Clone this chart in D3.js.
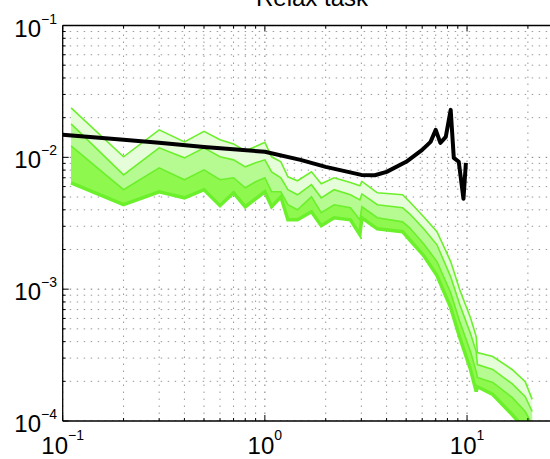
<!DOCTYPE html>
<html>
<head>
<meta charset="utf-8">
<script src="https://cdn.jsdelivr.net/npm/d3@7"></script>
<style>
body { margin: 0; background: #fff; }
svg { display: block; font-family: "Liberation Sans", Arial, sans-serif; }
</style>
</head>
<body>
<div id="chart"></div>
<script>
// frequencies of the green percentile bands
const bandFreq = [0.11, 0.2, 0.3, 0.4, 0.5, 0.6, 0.7, 0.8, 0.9, 1.0, 1.08, 1.2, 1.3, 1.45, 1.7, 1.9, 2.2, 2.65, 2.95, 3.02, 3.6, 4.8, 5.2, 6.1, 7.1, 8.3, 9.2, 10.4, 11.1, 11.25, 13.4, 16.7, 19.4, 21];
const bandOuter = [0.0237, 0.01009, 0.01615, 0.0131, 0.01575, 0.0136, 0.01265, 0.0112, 0.0121, 0.013, 0.01009, 0.00925, 0.00711, 0.00664, 0.00776, 0.0063, 0.007, 0.00644, 0.00608, 0.00656, 0.00538, 0.0052, 0.0046, 0.00354, 0.00273, 0.00162, 0.00099, 0.000608, 0.000437, 0.00033, 0.000308, 0.000246, 0.000199, 0.000146];
const bandMiddle = [0.01795, 0.00736, 0.0118, 0.00991, 0.0118, 0.01009, 0.00957, 0.00847, 0.00908, 0.00957, 0.00776, 0.007, 0.00568, 0.0052, 0.0062, 0.00493, 0.00568, 0.0052, 0.00476, 0.00528, 0.00437, 0.00414, 0.00373, 0.00287, 0.00217, 0.00124, 0.000764, 0.00046, 0.000336, 0.000268, 0.000246, 0.000192, 0.000153, 0.000118];
const bandInner = [0.01222, 0.00568, 0.00832, 0.00676, 0.00803, 0.00676, 0.007, 0.00588, 0.00652, 0.007, 0.00548, 0.00548, 0.00437, 0.004, 0.00502, 0.0038, 0.00437, 0.00414, 0.00336, 0.00422, 0.00348, 0.00324, 0.00292, 0.00221, 0.00162, 0.00094, 0.000568, 0.000336, 0.000237, 0.000214, 0.000196, 0.000151, 0.000118, 0.000094];
const bandLow = [0.00641, 0.00437, 0.00548, 0.00493, 0.00568, 0.0043, 0.00538, 0.00422, 0.00485, 0.00548, 0.00422, 0.00502, 0.00336, 0.00336, 0.00386, 0.00303, 0.00348, 0.00336, 0.00259, 0.00348, 0.00287, 0.00273, 0.00237, 0.0018, 0.00127, 0.000724, 0.00043, 0.000246, 0.000167, 0.000182, 0.000159, 0.000112, 0.0000863, 0.0000724];

// black curve
const meanFreq = [0.1, 0.2, 0.3, 0.5, 1.0, 1.5, 2, 3, 3.5, 4, 5, 6, 6.6, 7.0, 7.38, 7.85, 8.3, 8.6, 9.1, 9.6, 9.87];
const meanPower = [0.01481, 0.0136, 0.01288, 0.012, 0.01101, 0.00957, 0.00847, 0.00736, 0.00731, 0.00776, 0.00925, 0.0114, 0.0131, 0.01615, 0.01288, 0.0143, 0.0229, 0.00991, 0.00925, 0.00485, 0.00908];

const xTicks = [0.1, 1, 10];
const xTickExp = ["\u22121", "0", "1"];
const yTicks = [1e-4, 1e-3, 1e-2, 1e-1];
const yTickExp = ["\u22124", "\u22123", "\u22122", "\u22121"];
const title = "Relax task";

const width = 550, height = 459;
const x = d3.scaleLog().domain([0.1, 30]).range([62.7, 563.5]);
const y = d3.scaleLog().domain([1e-4, 1e-1]).range([421, 25.5]);

const svg = d3.select("#chart").append("svg")
	.attr("width", width)
	.attr("height", height);

svg.append("clipPath").attr("id", "plot")
	.append("rect")
	.attr("x", x.range()[0])
	.attr("y", y.range()[1])
	.attr("width", x.range()[1] - x.range()[0])
	.attr("height", y.range()[0] - y.range()[1]);

// minor + major grid
function minorValues(scale) {
	const [a, b] = scale.domain();
	const out = [];
	for (let e = Math.floor(Math.log10(a)); e <= Math.ceil(Math.log10(b)); e++) {
		for (let k = 1; k <= 9; k++) {
			const v = k * Math.pow(10, e);
			if (v >= a * 0.999 && v <= b * 1.001) out.push({ v: v, major: k == 1 });
		}
	}
	return out;
}

const grid = svg.append("g").attr("clip-path", "url(#plot)");
grid.selectAll("line.gx")
	.data(minorValues(x))
	.enter()
	.append("line")
	.attr("x1", (d) => x(d.v)).attr("x2", (d) => x(d.v))
	.attr("y1", y.range()[0]).attr("y2", y.range()[1])
	.attr("stroke", (d) => (d.major ? "#777" : "#999"))
	.attr("stroke-width", 1)
	.attr("stroke-dasharray", "1.5,5.5");
grid.selectAll("line.gy")
	.data(minorValues(y))
	.enter()
	.append("line")
	.attr("y1", (d) => y(d.v)).attr("y2", (d) => y(d.v))
	.attr("x1", x.range()[0]).attr("x2", x.range()[1])
	.attr("stroke", (d) => (d.major ? "#777" : "#999"))
	.attr("stroke-width", 1)
	.attr("stroke-dasharray", "1.5,5.5");

// bands
const plot = svg.append("g").attr("clip-path", "url(#plot)");
const bands = [
	{ upper: bandOuter, fill: "#e6fdda" },
	{ upper: bandMiddle, fill: "#b6fb92" },
	{ upper: bandInner, fill: "#8ef84e" }
];

const area = d3.area()
	.x((d) => x(d.f))
	.y0((d) => y(d.lo))
	.y1((d) => y(d.hi));

bands.forEach((b) => {
	const rows = bandFreq.map((f, i) => ({ f: f, hi: b.upper[i], lo: bandLow[i] }));
	plot.append("path")
		.datum(rows)
		.attr("d", area)
		.attr("fill", b.fill);
});

const line = d3.line()
	.x((d) => x(d[0]))
	.y((d) => y(d[1]));

[bandOuter, bandMiddle, bandInner].forEach((s) => {
	plot.append("path")
		.datum(bandFreq.map((f, i) => [f, s[i]]))
		.attr("d", line)
		.attr("fill", "none")
		.attr("stroke", "#6cf02c")
		.attr("stroke-width", 1.6);
});
plot.append("path")
	.datum(bandFreq.map((f, i) => [f, bandLow[i]]))
	.attr("d", line)
	.attr("fill", "none")
	.attr("stroke", "#6cf02c")
	.attr("stroke-width", 3.5);

plot.append("path")
	.datum(meanFreq.map((f, i) => [f, meanPower[i]]))
	.attr("d", line)
	.attr("fill", "none")
	.attr("stroke", "#000")
	.attr("stroke-width", 4)
	.attr("stroke-linejoin", "round");

// axes box + inner ticks
const ax = svg.append("g").attr("stroke", "#000").attr("stroke-width", 1.3);
ax.append("line").attr("x1", x.range()[0]).attr("x2", width).attr("y1", y.range()[0]).attr("y2", y.range()[0]);
ax.append("line").attr("x1", x.range()[0]).attr("x2", width).attr("y1", y.range()[1]).attr("y2", y.range()[1]);
ax.append("line").attr("x1", x.range()[0]).attr("x2", x.range()[0]).attr("y1", y.range()[0]).attr("y2", y.range()[1]);

const ticks = svg.append("g").attr("stroke", "#000").attr("stroke-width", 1);
minorValues(x).forEach((d) => {
	const len = d.major ? 6 : 3;
	ticks.append("line").attr("x1", x(d.v)).attr("x2", x(d.v)).attr("y1", y.range()[0]).attr("y2", y.range()[0] - len);
	ticks.append("line").attr("x1", x(d.v)).attr("x2", x(d.v)).attr("y1", y.range()[1]).attr("y2", y.range()[1] + len);
});
minorValues(y).forEach((d) => {
	const len = d.major ? 6 : 3;
	ticks.append("line").attr("y1", y(d.v)).attr("y2", y(d.v)).attr("x1", x.range()[0]).attr("x2", x.range()[0] + len);
});

// tick labels
const xl = svg.selectAll("text.xl")
	.data(xTicks)
	.enter()
	.append("text")
	.attr("class", "xl")
	.attr("x", (d) => x(d))
	.attr("y", 454)
	.attr("text-anchor", "middle")
	.attr("font-size", 24);
xl.append("tspan").text("10");
xl.append("tspan").attr("dy", -14).attr("font-size", 14).text((d, i) => xTickExp[i]);

const yl = svg.selectAll("text.yl")
	.data(yTicks)
	.enter()
	.append("text")
	.attr("class", "yl")
	.attr("x", 57)
	.attr("y", (d) => y(d) + 11)
	.attr("text-anchor", "end")
	.attr("font-size", 24);
yl.append("tspan").text("10");
yl.append("tspan").attr("dy", -13).attr("font-size", 14).text((d, i) => yTickExp[i]);

svg.append("text")
	.attr("x", 312)
	.attr("y", 6)
	.attr("text-anchor", "middle")
	.attr("font-size", 24)
	.text(title);
</script>
</body>
</html>
